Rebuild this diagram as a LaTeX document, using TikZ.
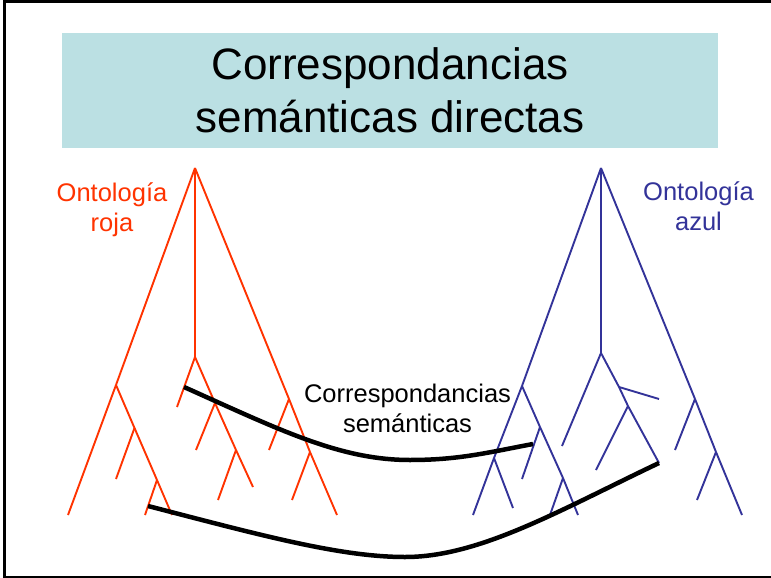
\documentclass[tikz,border=0pt]{standalone}
\usepackage{fontspec}
\setmainfont{Liberation Sans}
\usepackage{tikz}
\usepackage{tkz-berge}
\usetikzlibrary{decorations,arrows,shapes}
\definecolor{rojo}{RGB}{255,51,0}
\definecolor{azul}{RGB}{51,51,153}
\definecolor{celeste}{RGB}{187,224,227}
\newcommand{\ramas}{1.9pt}
\newcommand{\enlace}{4.5pt}

\begin{document}
\begin{tikzpicture}[x=1pt,y=-1pt]
            \useasboundingbox (0,0) rectangle (771,578);
            \draw[line width=2.6pt] (771,1.3) -- (4.7,1.3) -- (4.7,576.8) -- (771,576.8);
            \node[fill=celeste, minimum width=656pt, minimum height=115pt, inner sep=0pt, align=center,
                  font=\fontsize{44}{53}\selectfont] (titulo) at (390,90.5)
                  {Correspondancias\\semánticas directas};
            \begin{scope}
                \GraphInit[vstyle=Normal]
                \SetVertexNoLabel
                \tikzset{VertexStyle/.style = {shape=circle, draw=none, fill=none, inner sep=0pt, outer sep=0pt, minimum size=0pt}}
                \tikzset{EdgeStyle/.style = {draw=rojo, line width=\ramas}}
                % ontologia roja
                \Vertex[x=195,y=168]{r0}
                \Vertex[x=116,y=385]{rl1}
                \Vertex[x=68,y=515]{rl}
                \Vertex[x=134.5,y=428]{rl2}
                \Vertex[x=116,y=479]{rl2h}
                \Vertex[x=157,y=480]{rl3}
                \Vertex[x=145,y=515]{rl3h}
                \Vertex[x=172,y=515]{rlx}
                \Vertex[x=195,y=357]{rc}
                \Vertex[x=177,y=407]{rch}
                \Vertex[x=215,y=403]{rc1}
                \Vertex[x=196,y=450]{rc1h}
                \Vertex[x=236,y=450]{rc2}
                \Vertex[x=218,y=500]{rc2h}
                \Vertex[x=253,y=487]{rcx}
                \Vertex[x=289,y=399]{rr1}
                \Vertex[x=269,y=450]{rr1h}
                \Vertex[x=310,y=452]{rr2}
                \Vertex[x=292,y=500]{rr2h}
                \Vertex[x=337,y=515]{rr}
                \Edge(r0)(rl1)
                \Edge(rl1)(rl)
                \Edge(rl1)(rl2)
                \Edge(rl2)(rl2h)
                \Edge(rl2)(rl3)
                \Edge(rl3)(rl3h)
                \Edge(rl3)(rlx)
                \Edge(r0)(rc)
                \Edge(rc)(rch)
                \Edge(rc)(rc1)
                \Edge(rc1)(rc1h)
                \Edge(rc1)(rc2)
                \Edge(rc2)(rc2h)
                \Edge(rc2)(rcx)
                \Edge(r0)(rr1)
                \Edge(rr1)(rr1h)
                \Edge(rr1)(rr2)
                \Edge(rr2)(rr2h)
                \Edge(rr2)(rr)
            \end{scope}
            \begin{scope}
                \GraphInit[vstyle=Normal]
                \SetVertexNoLabel
                \tikzset{VertexStyle/.style = {shape=circle, draw=none, fill=none, inner sep=0pt, outer sep=0pt, minimum size=0pt}}
                \tikzset{EdgeStyle/.style = {draw=azul, line width=\ramas}}
                % ontologia azul
                \Vertex[x=601,y=168]{b0}
                \Vertex[x=522,y=386]{bl1}
                \Vertex[x=494,y=458]{bl0}
                \Vertex[x=513,y=508]{bl0h}
                \Vertex[x=473,y=515]{bl}
                \Vertex[x=540,y=427]{bl2}
                \Vertex[x=522,y=479]{bl2h}
                \Vertex[x=563,y=478]{bl3}
                \Vertex[x=550,y=515]{bl3h}
                \Vertex[x=578,y=515]{blx}
                \Vertex[x=601,y=353]{bc}
                \Vertex[x=562,y=446]{bch}
                \Vertex[x=619,y=387]{bc1}
                \Vertex[x=659,y=399]{bc1h}
                \Vertex[x=628,y=406]{bc2}
                \Vertex[x=596,y=470]{bc2h}
                \Vertex[x=659,y=463]{bcx}
                \Vertex[x=695,y=399]{br1}
                \Vertex[x=675,y=450]{br1h}
                \Vertex[x=716,y=452]{br2}
                \Vertex[x=697,y=500]{br2h}
                \Vertex[x=742,y=515]{br}
                \Edge(b0)(bl1)
                \Edge(bl1)(bl0)
                \Edge(bl0)(bl)
                \Edge(bl0)(bl0h)
                \Edge(bl1)(bl2)
                \Edge(bl2)(bl2h)
                \Edge(bl2)(bl3)
                \Edge(bl3)(bl3h)
                \Edge(bl3)(blx)
                \Edge(b0)(bc)
                \Edge(bc)(bch)
                \Edge(bc)(bc1)
                \Edge(bc1)(bc1h)
                \Edge(bc1)(bc2)
                \Edge(bc2)(bc2h)
                \Edge(bc2)(bcx)
                \Edge(b0)(br1)
                \Edge(br1)(br1h)
                \Edge(br1)(br2)
                \Edge(br2)(br2h)
                \Edge(br2)(br)
            \end{scope}
            % correspondencias
            \coordinate (ca) at (184,387);
            \coordinate (cb) at (533,444);
            \coordinate (cc) at (148,506);
            \draw[line width=\enlace] (ca) .. controls (280,430) and (340,460) .. (410,460)
                .. controls (460,460) and (490,452) .. (cb);
            \draw[line width=\enlace] (cc) .. controls (260,535) and (340,557) .. (405,557)
                .. controls (480,557) and (560,510) .. (bcx);
            \node[text=rojo, align=center, inner sep=0pt, font=\fontsize{25.5}{30}\selectfont] (roja) at (112,209.4) {Ontología\\roja};
            \node[text=azul, align=center, inner sep=0pt, font=\fontsize{25.5}{30}\selectfont] (azul) at (698.5,206.7) {Ontología\\azul};
            \node[align=center, inner sep=0pt, font=\fontsize{25.5}{30}\selectfont] (sem) at (407.5,408.7) {Correspondancias\\semánticas};
        \end{tikzpicture}
\end{document}
